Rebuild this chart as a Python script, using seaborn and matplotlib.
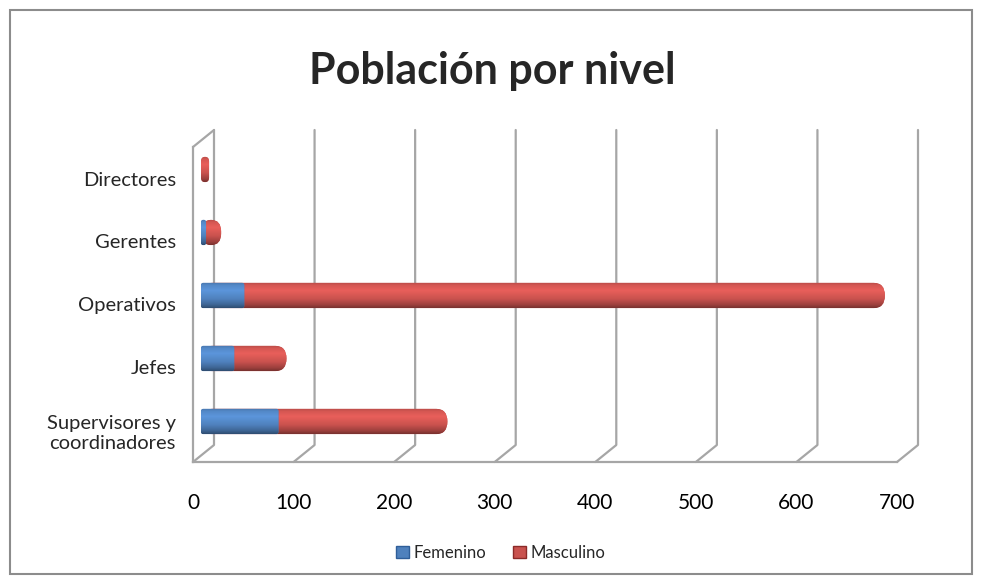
import numpy as np
import pandas as pd
import seaborn as sns
import matplotlib
matplotlib.use("Agg")
import matplotlib.pyplot as plt
from matplotlib.patches import FancyBboxPatch, Rectangle, Patch
from matplotlib.lines import Line2D
from matplotlib.transforms import ScaledTranslation
from matplotlib.colors import to_rgb

# data
niveles = ["Directores", "Gerentes", "Operativos", "Jefes", "Supervisores y\ncoordinadores"]
femenino = [0, 5, 43, 33, 77]
masculino = [8, 15, 637, 52, 168]
x_ticks = [0, 100, 200, 300, 400, 500, 600, 700]

azul = "#4F81BD"
rojo = "#C9524E"
gris = "#A6A6A6"

sns.set_style("white")
plt.rcParams["font.family"] = ["Lato", "DejaVu Sans"]

df = pd.DataFrame({"nivel": niveles, "Femenino": femenino, "Masculino": masculino})
df["total"] = df["Femenino"] + df["Masculino"]

W, H = 982, 584
fig = plt.figure(figsize=(W / 100, H / 100), dpi=100)
ax = fig.add_axes([193 / W, 1 - 462 / H, (897 - 193) / W, (462 - 147) / H])

sns.barplot(data=df, x="total", y="nivel", color=rojo, saturation=1, width=0.4, ax=ax)
sns.barplot(data=df, x="Femenino", y="nivel", color=azul, saturation=1, width=0.4, ax=ax)
ax.set_xlim(0, 700)
ylim = ax.get_ylim()

# bars sit half way into the depth of the 3d box
bar_off = ax.transData + ScaledTranslation(0.08, 0.09, fig.dpi_scale_trans)


def shade(color, n=64):
    t = np.linspace(0, 1, n)
    f = np.interp(t, [0, 0.12, 0.32, 0.65, 0.88, 1], [0.9, 1.06, 1.16, 1.0, 0.78, 0.6])
    c = np.clip(np.outer(f, to_rgb(color)), 0, 1)
    return c[:, None, :]


bars = list(ax.patches)
for i, p in enumerate(bars):
    p.remove()
    x0, y0, w, h = p.get_x(), p.get_y(), p.get_width(), p.get_height()
    if w <= 0:
        continue
    color = rojo if i < len(niveles) else azul
    z = 3 if i < len(niveles) else 4
    rs = min(11, w / 2) if i < len(niveles) else min(2, w / 2)
    fb = FancyBboxPatch((x0, y0), w, h, boxstyle=f"round,pad=0,rounding_size={rs}",
                        mutation_aspect=(h / 2) / 11, facecolor=color, edgecolor="none",
                        transform=bar_off, zorder=z)
    ax.add_patch(fb)
    im = ax.imshow(shade(color), extent=[x0, x0 + w, y0 + h, y0], aspect="auto",
                   origin="upper", transform=bar_off, zorder=z)
    im.set_clip_path(fb)

ax.set_xlim(0, 700)
ax.set_ylim(ylim)

# 3d box: back wall gridlines and floor diagonals
dx = 21 * 700 / (897 - 193)
dy = 17 / (462 - 147)
xt = ax.get_xaxis_transform()
for t in x_ticks:
    ax.add_line(Line2D([t, t + dx, t + dx], [0, dy, 1 + dy], color=gris, lw=1.6,
                       transform=xt, clip_on=False, zorder=1))
ax.add_line(Line2D([0, dx], [1, 1 + dy], color=gris, lw=1.6, transform=xt, clip_on=False))

for s in ["top", "right"]:
    ax.spines[s].set_visible(False)
for s in ["left", "bottom"]:
    ax.spines[s].set_color(gris)
    ax.spines[s].set_linewidth(1.6)

ax.set_xticks(x_ticks)
ax.set_xticklabels([str(t) for t in x_ticks])
ax.set_yticks(np.arange(-0.5, len(niveles)), minor=True)
ax.tick_params(axis="x", which="major", length=5, width=1.6, color=gris,
               labelsize=15, pad=17, labelcolor="black")
ax.tick_params(axis="y", which="major", length=0, labelsize=14.5, pad=12)
ax.tick_params(axis="y", which="minor", length=5, width=1.6, color=gris)
for lab in ax.get_yticklabels():
    lab.set_multialignment("center")
ax.set_xlabel("")
ax.set_ylabel("")
ax.grid(False)

fig.text(492 / W, 1 - 71 / H, "Población por nivel", ha="center", va="center",
         fontsize=31, fontweight="bold")

handles = [Patch(facecolor=azul, edgecolor="#2F5E99", label="Femenino"),
           Patch(facecolor=rojo, edgecolor="#8B2A28", label="Masculino")]
fig.legend(handles=handles, loc="center", bbox_to_anchor=(501 / W, 1 - 553 / H), ncol=2,
           frameon=False, fontsize=12, handlelength=0.75, handleheight=0.75,
           handletextpad=0.3, columnspacing=1.6)

fig.add_artist(Rectangle((10 / W, 10 / H), 962 / W, 564 / H, transform=fig.transFigure,
                         fill=False, edgecolor="#8C8C8C", lw=1.5))

fig.savefig("out.png", dpi=100)
